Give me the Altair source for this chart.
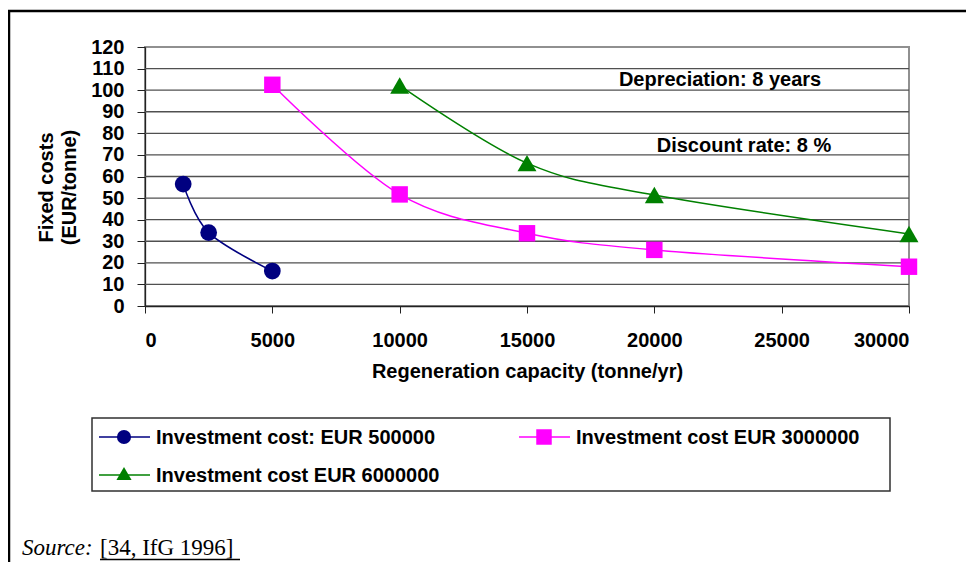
import altair as alt
import pandas as pd

# ---------------- data ----------------
series_names = [
    "Investment cost: EUR 500000",
    "Investment cost EUR 3000000",
    "Investment cost EUR 6000000",
]
series_colors = ["#000080", "#FF00FF", "#008000"]
series_shapes = ["circle", "square", "triangle-up"]

cap_500k = [1500, 2500, 5000]
cost_500k = [56.5, 34.0, 16.2]

cap_3m = [5000, 10000, 15000, 20000, 30000]
cost_3m = [102.5, 51.7, 33.7, 26.0, 18.2]

cap_6m = [10000, 15000, 20000, 30000]
cost_6m = [102.2, 66.2, 51.4, 33.4]

x_ticks = [0, 5000, 10000, 15000, 20000, 25000, 30000]
y_ticks = [0, 10, 20, 30, 40, 50, 60, 70, 80, 90, 100, 110, 120]
y_grid = [10, 20, 30, 40, 50, 60, 70, 80, 90, 100, 110]

note_texts = ["Depreciation: 8 years", "Discount rate: 8 %"]
note_x = [22580, 23520]
note_y = [102.0, 71.4]

source_label = "Source:"
source_ref = "[34, IfG 1996]"

# ---------------- tables ----------------
rows = []
for name, xs, ys in zip(series_names, [cap_500k, cap_3m, cap_6m], [cost_500k, cost_3m, cost_6m]):
    for xv, yv in zip(xs, ys):
        rows.append({"series": name, "capacity": xv, "cost": yv})
df = pd.DataFrame(rows)
notes_df = pd.DataFrame({"text": note_texts, "capacity": note_x, "cost": note_y})
grid_df = pd.DataFrame({"cost": y_grid})
one = pd.DataFrame({"k": [0]})

W, H = 764, 259
FONT = "Liberation Sans"

color_scale = alt.Scale(domain=series_names, range=series_colors)

x_axis = alt.Axis(
    values=x_ticks,
    format="d",
    title="Regeneration capacity (tonne/yr)",
    titleX=W / 2,
    titleY=71,
    titleAlign="center",
    titleBaseline="alphabetic",
    titleFont=FONT,
    titleFontSize=20,
    titleFontWeight="bold",
    titleColor="black",
    labelFont=FONT,
    labelFontSize=20,
    labelFontWeight="bold",
    labelColor="black",
    labelPadding=17,
    labelOverlap=False,
    tickSize=7,
    tickColor="#222",
    domainColor="#222",
    domainWidth=1.3,
    grid=False,
)
y_axis = alt.Axis(
    values=y_ticks,
    title=["Fixed costs", "(EUR/tonne)"],
    titleAngle=270,
    titleX=-93,
    titleY=140,
    titleAlign="center",
    titleBaseline="alphabetic",
    titleLineHeight=23.5,
    titleFont=FONT,
    titleFontSize=20,
    titleFontWeight="bold",
    titleColor="black",
    labelFont=FONT,
    labelFontSize=20,
    labelFontWeight="bold",
    labelColor="black",
    labelPadding=13,
    labelOverlap=False,
    labelSeparation=0,
    tickSize=8,
    tickColor="#222",
    domainColor="#222",
    domainWidth=1.3,
    grid=False,
)

x_scale = alt.Scale(domain=[0, 30000], nice=False)
y_scale = alt.Scale(domain=[0, 120], nice=False)


def X():
    return alt.X("capacity:Q", scale=x_scale, axis=x_axis)


def Y():
    return alt.Y("cost:Q", scale=y_scale, axis=y_axis)


grid = alt.Chart(grid_df).mark_rule(color="#505050", strokeWidth=1.3).encode(y=Y())

lines = alt.Chart(df).mark_line(interpolate="cardinal", tension=0, strokeWidth=1.5).encode(
    x=X(),
    y=Y(),
    color=alt.Color("series:N", scale=color_scale, legend=None),
)

point_sizes = [280, 270, 360]
point_layers = []
for name, shp, sz in zip(series_names, series_shapes, point_sizes):
    point_layers.append(
        alt.Chart(df)
        .transform_filter(alt.datum.series == name)
        .mark_point(filled=True, size=sz, opacity=1)
        .encode(
            x=X(),
            y=Y(),
            color=alt.Color("series:N", scale=color_scale, legend=None),
            shape=alt.value(shp),
        )
    )

notes = alt.Chart(notes_df).mark_text(
    font=FONT, fontSize=20, fontWeight="bold", align="center", baseline="alphabetic", color="black"
).encode(x=X(), y=Y(), text="text:N")

# ---------------- legend (key box below the plot) ----------------
legend_box = alt.Chart(one).mark_rect(fill="white", stroke="#303030", strokeWidth=1.5).encode(
    x=alt.value(-53), x2=alt.value(745), y=alt.value(371), y2=alt.value(444)
)
leg_col_x = [-21, 399, -21]      # marker centre per entry
leg_row_y = [390, 390, 428]      # line y per entry
leg_marker_dy = [0, 0, -1.5]
leg_sizes = [200, 240, 230]
legend_layers = []
for name, col, shp, cx, ly, mdy, sz in zip(
    series_names, series_colors, series_shapes, leg_col_x, leg_row_y, leg_marker_dy, leg_sizes
):
    legend_layers.append(
        alt.Chart(one).mark_rule(color=col, strokeWidth=1.5).encode(
            x=alt.value(cx - 25), x2=alt.value(cx + 26), y=alt.value(ly)
        )
    )
    legend_layers.append(
        alt.Chart(one).mark_point(filled=True, opacity=1, color=col, size=sz, shape=shp).encode(
            x=alt.value(cx), y=alt.value(ly + mdy)
        )
    )
    legend_layers.append(
        alt.Chart(one).mark_text(
            font=FONT, fontSize=20, fontWeight="bold", align="left", baseline="middle", color="black"
        ).encode(x=alt.value(cx + 32), y=alt.value(ly + 1), text=alt.value(name))
    )

frame_top = alt.Chart(one).mark_rule(color="black", strokeWidth=2.5).encode(
    x=alt.value(-137), x2=alt.value(830), y=alt.value(-36)
)
frame_left = alt.Chart(one).mark_rule(color="black", strokeWidth=2.5).encode(
    x=alt.value(-136), y=alt.value(-36), y2=alt.value(520)
)

src1 = alt.Chart(one).mark_text(
    font="Liberation Serif", fontSize=23, fontStyle="italic", align="left", baseline="alphabetic", color="black"
).encode(x=alt.value(-123), y=alt.value(508), text=alt.value(source_label))
src2 = alt.Chart(one).mark_text(
    font="Liberation Serif", fontSize=23, align="left", baseline="alphabetic", color="black"
).encode(x=alt.value(-45), y=alt.value(508), text=alt.value(source_ref))
src_line = alt.Chart(one).mark_rule(color="black", strokeWidth=1.3).encode(
    x=alt.value(-45), x2=alt.value(95), y=alt.value(512.5)
)

chart = (
    alt.layer(
        grid, frame_top, frame_left, lines, *point_layers, notes,
        legend_box, *legend_layers, src1, src2, src_line,
    )
    .properties(
        width=W,
        height=H,
        padding={"left": 137, "top": 39, "right": 57, "bottom": 256},
        autosize=alt.AutoSizeParams(type="none"),
        background="white",
    )
    .configure_axis(labelOverlap=False)
    .configure_view(stroke="#909090", strokeWidth=2)
)

chart.save("out.html", embed_options={"renderer": "svg", "actions": False})
